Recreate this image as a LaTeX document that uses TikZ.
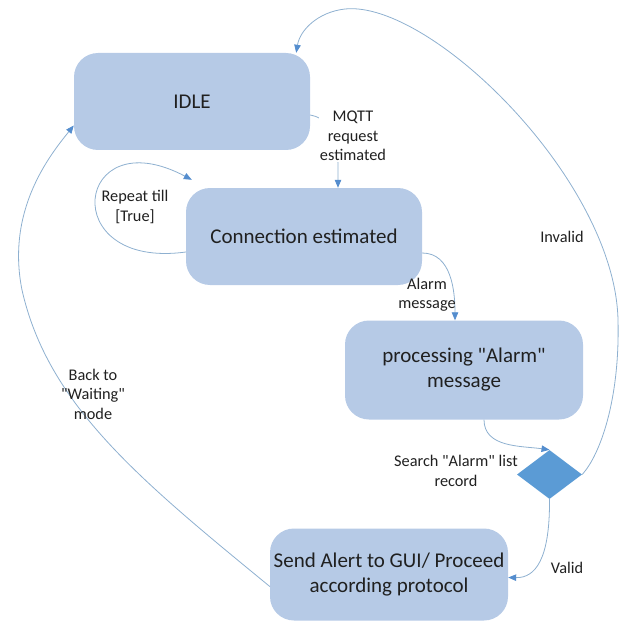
\documentclass[tikz,border=0pt]{standalone}
\usepackage{fontspec}
\setmainfont{Carlito}[Ligatures=TeXOff]
\usetikzlibrary{%
    arrows.meta,%
    shapes.geometric%
}
\definecolor{boxblue}{RGB}{182,202,230}
\definecolor{diamblue}{RGB}{91,155,213}
\definecolor{tipblue}{RGB}{84,141,206}
\definecolor{lineblue}{RGB}{142,176,208}
\definecolor{txtgray}{RGB}{32,32,32}

\begin{document}
\begin{tikzpicture}[x=1pt,y=-1pt,
    state/.style={fill=boxblue,rounded corners=24pt,text=txtgray,inner sep=0pt,
        align=center,font={\fontsize{21}{25}\selectfont}},
    decide/.style={diamond,fill=diamblue,inner sep=0pt},
    lbl/.style={text=txtgray,align=center,
        font={\fontsize{16.3}{19.5}\selectfont}},
    flow/.style={draw=lineblue,line width=.8pt,
        -{Triangle[length=8pt,width=6.5pt,color=tipblue]}},
    ]

    % page size
    \useasboundingbox (0,0) rectangle (624,623);

    % States
    \node[state,minimum width=236pt,minimum height=97pt] (idle) at (192,101.5) {IDLE};
    \node[state,minimum width=236pt,minimum height=97pt] (conn) at (304,236.5) {Connection estimated};
    \node[state,minimum width=238pt,minimum height=99pt] (proc) at (464,370) {processing "Alarm"\\message};
    \node[decide,minimum width=65pt,minimum height=49pt] (search) at (549.5,474.5) {};
    \node[state,minimum width=238pt,minimum height=92pt] (alert) at (389,574.5) {Send Alert to GUI/ Proceed\\according protocol};

    % Transitions
    \draw[flow] ([yshift=-13.5pt]idle.east) to[out=-10,in=90] ([xshift=34pt]conn.north);
    \draw[flow] ([yshift=-15.5pt]conn.west) .. controls (55,270) and (75,118) .. ([xshift=6pt,yshift=8pt]conn.north west);
    \draw[flow] ([yshift=-16.5pt]conn.east) to[out=0,in=90] ([xshift=-9pt]proc.north);
    \draw[flow] ([xshift=20pt]proc.south) to[out=-90,in=172] (search.north);
    \draw[flow] (search.east) .. controls (600,455) and (620,400) .. (618,320)
        .. controls (615,180) and (430,0) .. (345,9)
        .. controls (318,12) and (300,30) .. ([xshift=-14pt]idle.north east);
    \draw[flow] (search.south) .. controls (550,560) and (535,578) .. ([yshift=-3pt]alert.east);
    \draw[flow] ([yshift=-12pt]alert.west) .. controls (140,480) and (48,405) .. (22,290)
        .. controls (6,210) and (50,155) .. ([yshift=-24pt]idle.west);

    % Labels
    \node[lbl,fill=white,inner sep=1pt] (mqtt) at (353,136) {MQTT\\request\\estimated};
    \node[lbl] (repeat) at (135,207) {Repeat till\\{}[True]};
    \node[lbl] (alarm) at (427,294.5) {Alarm\\message};
    \node[lbl] (invalid) at (562,237) {Invalid};
    \node[lbl] (searchlbl) at (456,471) {Search "Alarm" list\\record};
    \node[lbl] (valid) at (567,568) {Valid};
    \node[lbl] (back) at (93,394) {Back to\\"Waiting"\\mode};
\end{tikzpicture}
\end{document}
